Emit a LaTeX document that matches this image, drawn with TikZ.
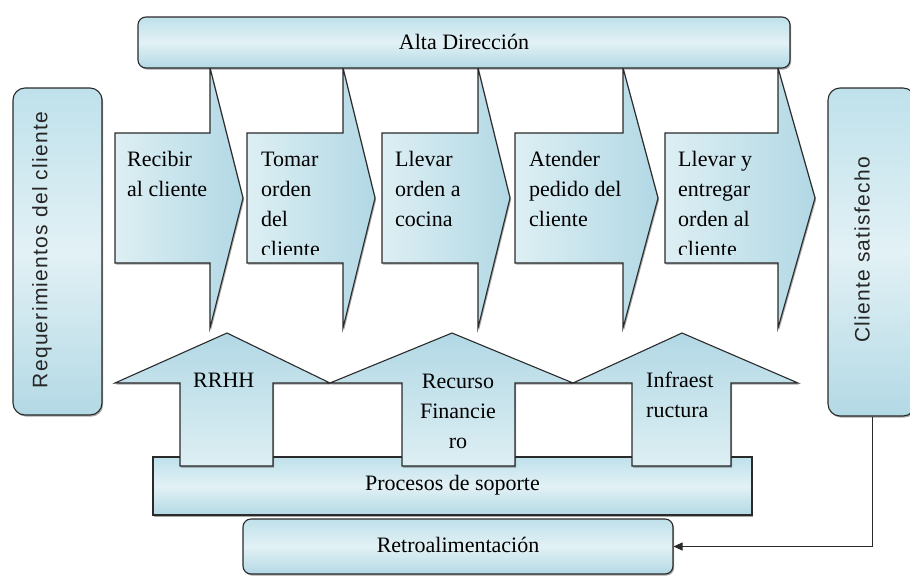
\documentclass[tikz,border=0pt]{standalone}
\usepackage{fontspec}
\setmainfont{Liberation Serif}
\newfontfamily\vsans{Liberation Sans}[LetterSpace=6]
\usetikzlibrary{shadows,arrows.meta}
\definecolor{bLine}{HTML}{2A2A2A}
\definecolor{bTop}{HTML}{BFE1EB}
\definecolor{bMid}{HTML}{E2F1F5}
\definecolor{bBot}{HTML}{B3D9E5}
\definecolor{cLeft}{HTML}{DDEFF3}
\definecolor{cRight}{HTML}{B2D8E5}
\tikzset{
  boxline/.style={draw=bLine, line width=1.1pt},
  barshade/.style={top color=bTop, bottom color=bBot, middle color=bMid},
  chevshade/.style={left color=cLeft, right color=cRight},
  upshade/.style={top color=cRight, bottom color=cLeft},
  shadowed/.style={drop shadow={shadow xshift=1.2pt, shadow yshift=-1.6pt, opacity=0.35, fill=black}},
  lbl/.style={font=\fontsize{22}{30}\selectfont, inner sep=0pt, text=black},
  vlbl/.style={font=\vsans\fontsize{21}{25}\selectfont, inner sep=0pt, text=black!85, rotate=90},
}
\begin{document}
\begin{tikzpicture}[x=1pt,y=-1pt]
\useasboundingbox (0,0) rectangle (910,576);
% chevrons (process flow)
\path[boxline, chevshade, shadowed] (115,133) -- (210,133) -- (210,68) -- (243,198) -- (210,328) -- (210,263) -- (115,263) -- cycle;
\path[boxline, chevshade, shadowed] (247,133) -- (343,133) -- (343,68) -- (375,198) -- (343,328) -- (343,263) -- (247,263) -- cycle;
\path[boxline, chevshade, shadowed] (382,133) -- (478,133) -- (478,68) -- (510,198) -- (478,328) -- (478,263) -- (382,263) -- cycle;
\path[boxline, chevshade, shadowed] (515,133) -- (623,133) -- (623,68) -- (658,198) -- (623,328) -- (623,263) -- (515,263) -- cycle;
\path[boxline, chevshade, shadowed] (665,133) -- (778,133) -- (778,68) -- (815,198) -- (778,328) -- (778,263) -- (665,263) -- cycle;
% top bar
\node[boxline, barshade, shadowed, rounded corners=8pt, minimum width=652pt, minimum height=51pt, inner sep=0pt,
      font=\fontsize{22}{30}\selectfont, text height=15pt, text depth=2pt] (alta) at (464,42.5) {Alta Dirección};
% support bar
\node[boxline, barshade, shadowed, minimum width=599pt, minimum height=58pt, inner sep=0pt,
      font=\fontsize{22}{30}\selectfont, text height=15pt, text depth=7pt] (proc) at (452.5,486) {Procesos de soporte};
% up arrows
\path[boxline, upshade, shadowed] (115,383) -- (227,333) -- (330,383) -- (273,383) -- (273,466) -- (180,466) -- (180,383) -- cycle;
\path[boxline, upshade, shadowed] (330,383) -- (452,333) -- (573,383) -- (515,383) -- (515,466) -- (402,466) -- (402,383) -- cycle;
\path[boxline, upshade, shadowed] (573,383) -- (682,333) -- (798,383) -- (731,383) -- (731,466) -- (632,466) -- (632,383) -- cycle;
% feedback bar
\node[boxline, barshade, shadowed, rounded corners=8pt, minimum width=430pt, minimum height=55pt, inner sep=0pt,
      font=\fontsize{22}{30}\selectfont, text height=15pt, text depth=4pt] (retro) at (458,546.5) {Retroalimentación};
% side boxes
\node[boxline, barshade, shadowed, rounded corners=12pt, minimum width=89pt, minimum height=327pt, inner sep=0pt] (req) at (57.5,251.5) {};
\node[boxline, barshade, shadowed, rounded corners=12pt, minimum width=87pt, minimum height=328pt, inner sep=0pt] (cs) at (871.5,252) {};
\node[vlbl] (reqt) at (42,250) {Requerimientos del cliente};
\node[vlbl] (cst) at (862,250) {Cliente satisfecho};
% chevron texts
\begin{scope}
\clip (100,120) rectangle (830,254);
\node[lbl, anchor=north west, align=left] (t1) at (127,145) {\strut Recibir\\al cliente};
\node[lbl, anchor=north west, align=left] (t2) at (261,145) {\strut Tomar\\orden\\del\\cliente};
\node[lbl, anchor=north west, align=left] (t3) at (395,145) {\strut Llevar\\orden a\\cocina};
\node[lbl, anchor=north west, align=left] (t4) at (529,145) {\strut Atender\\pedido del\\cliente};
\node[lbl, anchor=north west, align=left] (t5) at (678,145) {\strut Llevar y\\entregar\\orden al\\cliente};
\end{scope}
% support texts
\node[lbl, anchor=north west, align=left] (u1) at (193,366) {\strut RRHH};
\node[lbl, anchor=north, align=center] (u2) at (458,367) {\strut Recurso\\Financie\\ro};
\node[lbl, anchor=north west, align=left] (u3) at (646,366) {\strut Infraest\\ructura};
% feedback connector
\draw[draw=bLine, line width=1pt, -{Triangle[length=9pt,width=8pt]}] ([xshift=0.5pt]cs.south) |- (retro.east);
\end{tikzpicture}
\end{document}
